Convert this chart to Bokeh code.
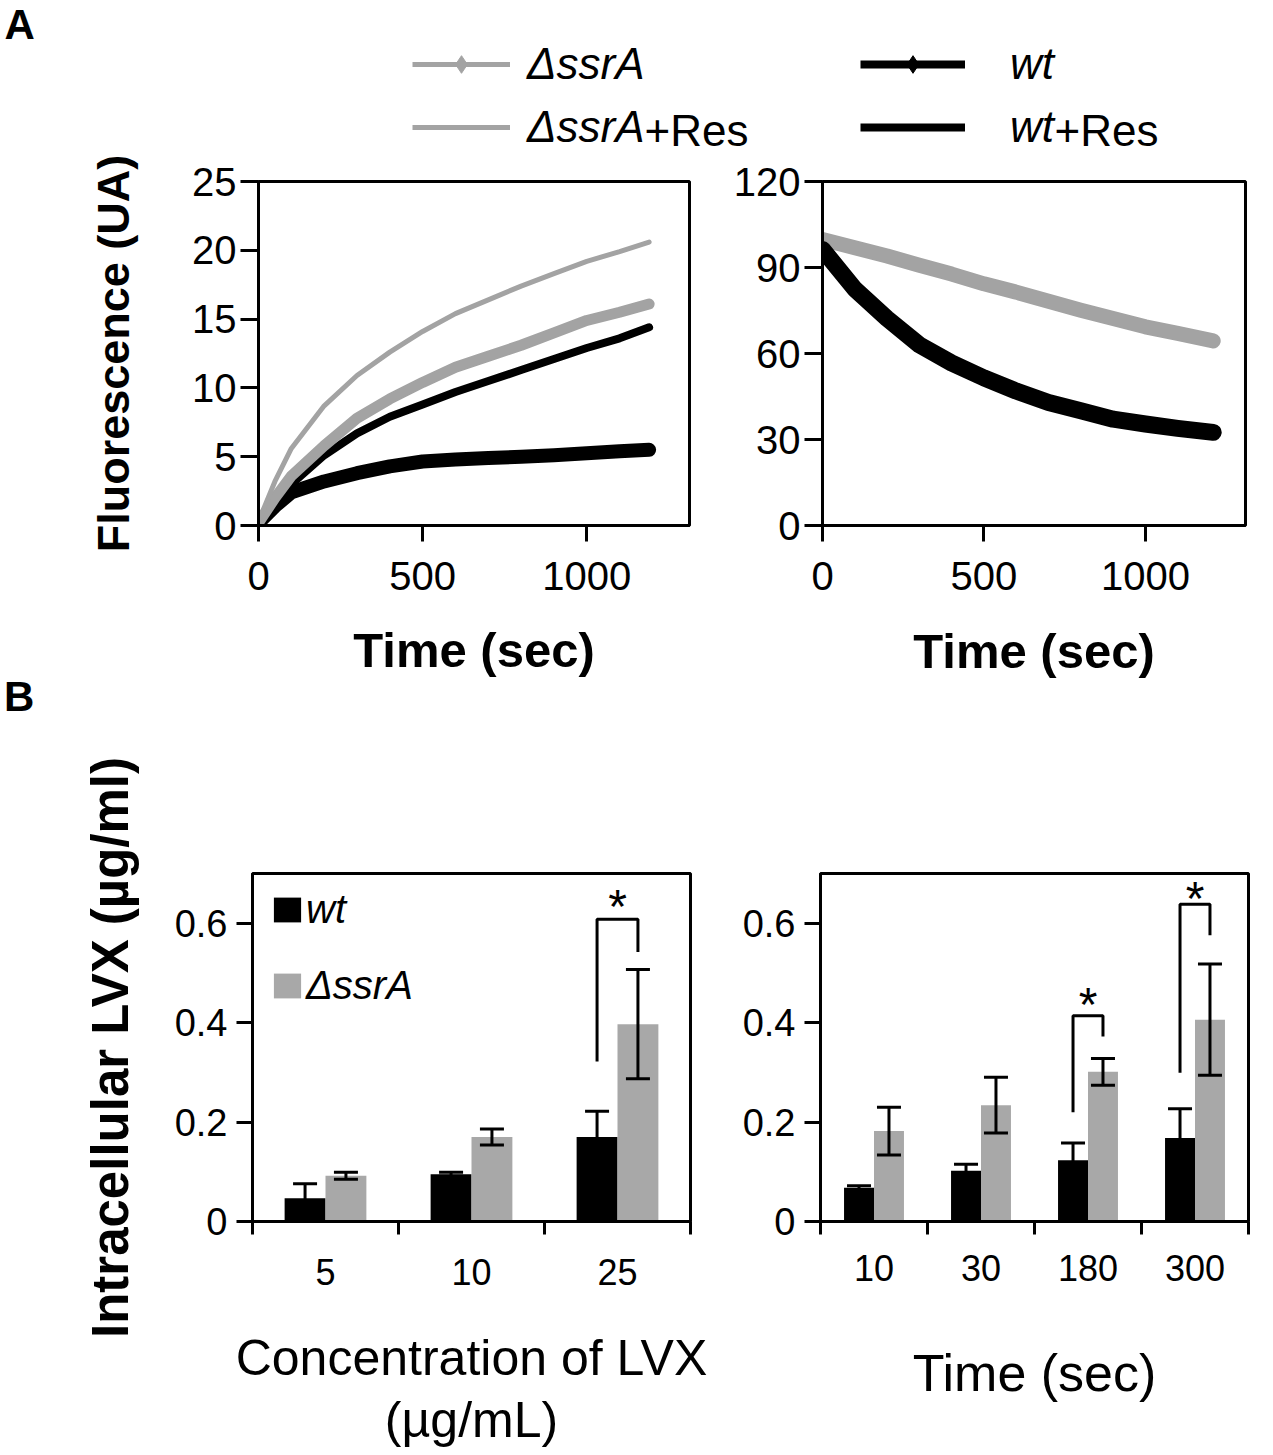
from bokeh.plotting import figure
from bokeh.models import (Range1d, FixedTicker, LinearAxis, Legend, LegendItem, Label,
                          Whisker, TeeHead, ColumnDataSource, Div)
from bokeh.layouts import column, row
from bokeh.embed import file_html
from bokeh.resources import INLINE
from bokeh.core.properties import value

FONT = "Liberation Sans"
GRAY = "#a3a3a3"
BARGRAY = "#a8a8a8"

# ---------------- Panel A data ----------------
a_left_time = [0, 50, 100, 200, 300, 400, 500, 600, 700, 800, 900, 1000, 1100, 1190]
a_left_ssra = [0.2, 2.0, 3.6, 5.8, 7.8, 9.2, 10.4, 11.5, 12.3, 13.1, 14.0, 14.9, 15.5, 16.1]
a_left_ssra_res = [0.3, 3.2, 5.6, 8.7, 10.9, 12.6, 14.1, 15.4, 16.4, 17.4, 18.3, 19.2, 19.9, 20.6]
a_left_wt = [0.2, 1.4, 2.4, 3.2, 3.8, 4.3, 4.65, 4.8, 4.9, 5.0, 5.1, 5.25, 5.4, 5.5]
a_left_wt_res = [0.0, 1.6, 3.0, 5.1, 6.7, 7.9, 8.8, 9.7, 10.5, 11.3, 12.1, 12.9, 13.6, 14.4]

a_right_time = [0, 100, 200, 300, 400, 500, 600, 700, 800, 900, 1000, 1100, 1210]
a_right_ssra = [99.8, 96.9, 94.0, 90.8, 87.7, 84.3, 81.4, 78.2, 75.1, 72.2, 69.3, 67.0, 64.4]
a_right_wt = [96.3, 82.5, 72.2, 63.0, 56.7, 51.5, 46.9, 42.9, 40.0, 37.1, 35.4, 33.9, 32.5]

a_left_yticks = [0, 5, 10, 15, 20, 25]
a_right_yticks = [0, 30, 60, 90, 120]
a_xticks = [0, 500, 1000]

# ---------------- Panel B data ----------------
b_left_cats = ["5", "10", "25"]
b_left_wt = [0.047, 0.095, 0.170]
b_left_wt_err = [0.029, 0.004, 0.052]
b_left_ssra = [0.092, 0.170, 0.397]
b_left_ssra_err = [0.007, 0.016, 0.110]

b_right_cats = ["10", "30", "180", "300"]
b_right_wt = [0.068, 0.102, 0.123, 0.168]
b_right_wt_err = [0.004, 0.013, 0.035, 0.059]
b_right_ssra = [0.182, 0.234, 0.301, 0.406]
b_right_ssra_err = [0.048, 0.056, 0.027, 0.112]

b_yticks = [0, 0.2, 0.4, 0.6]

# significance brackets: category index, left foot, top, right foot, star height
b_left_sig_idx = [2]
b_left_sig_left = [0.322]
b_left_sig_top = [0.608]
b_left_sig_right = [0.542]
b_left_star_y = [0.655]
b_right_sig_idx = [2, 3]
b_right_sig_left = [0.220, 0.299]
b_right_sig_top = [0.414, 0.638]
b_right_sig_right = [0.372, 0.576]
b_right_star_y = [0.457, 0.671]

OFF = 0.14
BW = 0.28


def style_axes(p, tick_font="40px", y_tick_out=18, x_tick_out=16):
    for ax in p.axis:
        ax.axis_line_width = 3
        ax.axis_line_color = "black"
        ax.major_tick_line_width = 3
        ax.major_tick_line_color = "black"
        ax.major_tick_in = 0
        ax.minor_tick_line_color = None
        ax.major_label_text_font = FONT
        ax.major_label_text_font_size = tick_font
        ax.major_label_text_color = "black"
        ax.axis_label_text_color = "black"
        ax.axis_label_text_font = FONT
    for ax in p.yaxis:
        ax.major_tick_out = y_tick_out
    for ax in p.xaxis:
        ax.major_tick_out = x_tick_out


def base_fig(width, height, left, right, top, bottom, **kw):
    p = figure(width=width, height=height, output_backend="svg", toolbar_location=None,
               min_border_left=left, min_border_right=right, min_border_top=top,
               min_border_bottom=bottom, **kw)
    p.grid.visible = False
    p.outline_line_color = "black"
    p.outline_line_width = 3
    p.outline_line_alpha = 1
    return p


def blank_fig(width, height):
    p = figure(width=width, height=height, output_backend="svg", toolbar_location=None,
               x_range=Range1d(0, width), y_range=Range1d(height, 0),
               x_axis_type=None, y_axis_type=None, min_border=0)
    p.outline_line_color = None
    p.grid.visible = False
    return p


# ---------------- Header (A + legend) ----------------
HW, HH = 1265, 154
hdr = blank_fig(HW, HH)
hdr.add_layout(Label(x=4, y=0, text="A", text_font=FONT, text_font_size="42px", text_color="black",
                     text_font_style="bold", text_baseline="top", text_align="left"))

# legend-only renderers (placed outside the visible header range)
hid_x, hid_y = [-100, -90], [-100, -100]
r_l_ssra = hdr.line(hid_x, hid_y, line_color=GRAY, line_width=5)
r_m_ssra = hdr.scatter(hid_x[:1], hid_y[:1], marker="diamond", size=12, color=GRAY)
r_l_ssra_res = hdr.line(hid_x, hid_y, line_color=GRAY, line_width=5)
r_l_wt = hdr.line(hid_x, hid_y, line_color="black", line_width=8)
r_m_wt = hdr.scatter(hid_x[:1], hid_y[:1], marker="diamond", size=16, color="black")
r_l_wt_res = hdr.line(hid_x, hid_y, line_color="black", line_width=8)


def hdr_legend(label, renderers, vx, vy, gw, standoff):
    return Legend(items=[LegendItem(label=label, renderers=renderers)], location=(vx, vy),
                  glyph_width=gw, glyph_height=44, label_height=44, label_standoff=standoff,
                  padding=0, margin=0, spacing=0, border_line_color=None,
                  background_fill_alpha=0, label_text_font=FONT, label_text_font_size="44px",
                  label_text_font_style="italic", label_text_color="black")


hdr.add_layout(hdr_legend("ΔssrA", [r_l_ssra, r_m_ssra], 412, 65, 98, 17))
hdr.add_layout(hdr_legend("ΔssrA", [r_l_ssra_res], 412, 2, 98, 17))
hdr.add_layout(hdr_legend("wt", [r_l_wt, r_m_wt], 860, 65, 105, 45))
hdr.add_layout(hdr_legend("wt", [r_l_wt_res], 860, 2, 105, 45))
hdr.add_layout(Label(x=644, y=130, text="+Res", text_font=FONT, text_font_size="44px",
                     text_color="black", text_baseline="middle", text_align="left"))
hdr.add_layout(Label(x=1054, y=130, text="+Res", text_font=FONT, text_font_size="44px",
                     text_color="black", text_baseline="middle", text_align="left"))

# ---------------- left strip carrying the letter B ----------------
TOP_H = 581
SW = 60
side = Div(text=('<div style="padding:522px 0 0 4px; margin:0; font-family:\'Liberation Sans\', Arial, '
                 'sans-serif; font-size:42px; font-weight:bold; line-height:1; color:#000;">B</div>'),
           width=SW, height=TOP_H, margin=0)

# ---------------- Panel A left ----------------
p_tl = base_fig(720 - SW, TOP_H, 258 - SW, 31, 23, TOP_H - 23 - 348,
                x_range=Range1d(0, 1313), y_range=Range1d(0, 25))
p_tl.line(a_left_time, a_left_wt, line_color="black", line_width=14, line_cap="round", line_join="round")
p_tl.line(a_left_time, a_left_wt_res, line_color="black", line_width=8, line_cap="round", line_join="round")
p_tl.line(a_left_time, a_left_ssra, line_color=GRAY, line_width=11, line_cap="round", line_join="round")
p_tl.line(a_left_time, a_left_ssra_res, line_color=GRAY, line_width=5, line_cap="round", line_join="round")
p_tl.xaxis.ticker = FixedTicker(ticks=a_xticks)
p_tl.yaxis.ticker = FixedTicker(ticks=a_left_yticks)
p_tl.xaxis.axis_label = "Time (sec)"
p_tl.yaxis.axis_label = "Fluorescence (UA)"
style_axes(p_tl)
p_tl.xaxis.axis_label_text_font_size = "49px"
p_tl.xaxis.axis_label_text_font_style = "bold"
p_tl.xaxis.axis_label_standoff = 30
p_tl.xaxis.major_label_standoff = 20
p_tl.yaxis.axis_label_text_font_size = "45px"
p_tl.yaxis.axis_label_text_font_style = "bold"
p_tl.yaxis.axis_label_standoff = 50
p_tl.yaxis.major_label_standoff = 4

# ---------------- Panel A right ----------------
p_tr = base_fig(545, TOP_H, 102, 20, 27, TOP_H - 27 - 348,
                x_range=Range1d(0, 1310), y_range=Range1d(0, 120))
p_tr.line(a_right_time, a_right_ssra, line_color=GRAY, line_width=15, line_cap="round", line_join="round")
p_tr.line(a_right_time, a_right_wt, line_color="black", line_width=17, line_cap="round", line_join="round")
p_tr.xaxis.ticker = FixedTicker(ticks=a_xticks)
p_tr.yaxis.ticker = FixedTicker(ticks=a_right_yticks)
p_tr.xaxis.axis_label = "Time (sec)"
style_axes(p_tr)
p_tr.xaxis.axis_label_text_font_size = "49px"
p_tr.xaxis.axis_label_text_font_style = "bold"
p_tr.xaxis.axis_label_standoff = 31
p_tr.xaxis.major_label_standoff = 20
p_tr.yaxis.major_label_standoff = 4


# ---------------- Panel B ----------------
def bar_panel(cats, wt, wt_err, ss, ss_err, sig_idx, sig_l, sig_t, sig_r, star_y,
              width, height, left, right, top, bottom, cat_standoff,
              xlabel, xlabel_size, xlabel_standoff, ylabel=None, legend=False):
    n = len(cats)
    p = base_fig(width, height, left, right, top, bottom,
                 x_range=Range1d(0, n), y_range=Range1d(0, 0.7), x_axis_location=None)
    centers = [i + 0.5 for i in range(n)]
    src = ColumnDataSource(dict(
        x_wt=[c - OFF for c in centers], x_ss=[c + OFF for c in centers], wt=wt, ss=ss,
        wt_lo=[v - e for v, e in zip(wt, wt_err)], wt_hi=[v + e for v, e in zip(wt, wt_err)],
        ss_lo=[v - e for v, e in zip(ss, ss_err)], ss_hi=[v + e for v, e in zip(ss, ss_err)]))
    r_wt = p.vbar(x="x_wt", top="wt", width=BW, source=src, fill_color="black", line_color=None)
    r_ss = p.vbar(x="x_ss", top="ss", width=BW, source=src, fill_color=BARGRAY, line_color=None)
    for base, lo, hi in (("x_wt", "wt_lo", "wt_hi"), ("x_ss", "ss_lo", "ss_hi")):
        p.add_layout(Whisker(source=src, base=base, lower=lo, upper=hi,
                             line_color="black", line_width=3, level="annotation",
                             upper_head=TeeHead(size=24, line_width=3, line_color="black"),
                             lower_head=TeeHead(size=24, line_width=3, line_color="black")))
    for i, yl, yt, yr in zip(sig_idx, sig_l, sig_t, sig_r):
        xl, xr = centers[i] - OFF, centers[i] + OFF
        p.line([xl, xl, xr, xr], [yl, yt, yt, yr], line_color="black", line_width=3)
    p.text(x=[centers[i] for i in sig_idx], y=[s - 0.021 for s in star_y], text=["*"] * len(sig_idx),
           text_font=value(FONT), text_font_size="48px",
           text_align="center", text_baseline="middle", text_color="black")

    cat_ax = LinearAxis(ticker=FixedTicker(ticks=centers, minor_ticks=list(range(n + 1))),
                        major_label_overrides={c: lab for c, lab in zip(centers, cats)})
    p.add_layout(cat_ax, "below")
    p.yaxis.ticker = FixedTicker(ticks=b_yticks)
    p.yaxis.major_label_overrides = {0: "0"}
    style_axes(p, tick_font="38px", y_tick_out=16, x_tick_out=13)
    cat_ax.major_label_text_font_size = "36px"
    cat_ax.major_tick_line_color = None
    cat_ax.minor_tick_line_color = "black"
    cat_ax.minor_tick_line_width = 3
    cat_ax.minor_tick_out = 13
    cat_ax.minor_tick_in = 0
    cat_ax.major_label_standoff = cat_standoff
    cat_ax.axis_label = xlabel
    cat_ax.axis_label_text_font_size = xlabel_size
    cat_ax.axis_label_text_font_style = "normal"
    cat_ax.axis_label_text_line_height = 1.12
    cat_ax.axis_label_standoff = xlabel_standoff
    p.yaxis.major_label_standoff = 9
    if ylabel:
        p.yaxis.axis_label = ylabel
        p.yaxis.axis_label_text_font_size = "51px"
        p.yaxis.axis_label_text_font_style = "bold"
        p.yaxis.axis_label_standoff = 33
    if legend:
        leg = Legend(items=[LegendItem(label="wt", renderers=[r_wt]),
                            LegendItem(label="ΔssrA", renderers=[r_ss])],
                     location=(18, 213), glyph_width=34, glyph_height=31, label_height=46,
                     spacing=30, padding=0, margin=0, label_standoff=2,
                     label_text_font=FONT, label_text_font_size="40px",
                     label_text_font_style="italic", label_text_color="black",
                     border_line_color=None, background_fill_alpha=0)
        p.add_layout(leg)
    return p


BOT_H = 1455 - HH - TOP_H   # 720
p_bl = bar_panel(b_left_cats, b_left_wt, b_left_wt_err, b_left_ssra, b_left_ssra_err,
                 b_left_sig_idx, b_left_sig_left, b_left_sig_top, b_left_sig_right, b_left_star_y,
                 735, BOT_H, 252, 45, 138, BOT_H - 138 - 348, 24,
                 "Concentration of LVX\n(µg/mL)", "50px", 42,
                 ylabel="Intracellular LVX (µg/ml)", legend=True)
p_br = bar_panel(b_right_cats, b_right_wt, b_right_wt_err, b_right_ssra, b_right_ssra_err,
                 b_right_sig_idx, b_right_sig_left, b_right_sig_top, b_right_sig_right, b_right_star_y,
                 530, BOT_H, 85, 17, 137, BOT_H - 137 - 353, 20, "Time (sec)", "52px", 60)

layout = column(hdr, row(side, p_tl, p_tr), row(p_bl, p_br))
open("out.html", "w").write(file_html(layout, INLINE))
